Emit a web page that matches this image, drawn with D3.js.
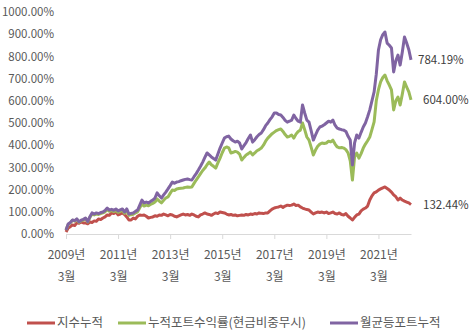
<!DOCTYPE html>
<html>
<head>
<meta charset="utf-8">
<script src="https://cdn.jsdelivr.net/npm/d3@7"></script>
<style>
  html, body { margin: 0; padding: 0; background: #fff; }
  svg { display: block; }
  text { font-family: "Noto Sans CJK KR", "Noto Sans", sans-serif; fill: #595959; }
</style>
</head>
<body>
<svg id="chart" width="470" height="335"></svg>
<script>
// Monthly cumulative returns (%), March 2009 to June 2022
const seriesNames = ["지수누적", "누적포트수익률(현금비중무시)", "월균등포트누적"];
const seriesColors = ["#C0504D", "#9BBB59", "#8064A2"];

const indexCum = [
  9, 27, 33, 41, 38, 50, 48, 54, 50, 50, 46, 54, 52, 59, 57, 68, 65, 72, 77, 86,
  84, 95, 92, 99, 86, 90, 95, 88, 77, 63, 63, 72, 68, 80, 86, 84, 86, 80, 72, 75,
  77, 82, 80, 86, 84, 90, 86, 82, 88, 86, 80, 77, 82, 86, 90, 86, 88, 84, 90, 86,
  80, 77, 86, 90, 95, 90, 88, 84, 90, 95, 92, 99, 97, 95, 90, 86, 88, 84, 86, 82,
  84, 86, 84, 88, 86, 90, 88, 92, 90, 95, 93, 92, 95, 95, 104, 112, 117, 120, 122, 126,
  120, 126, 130, 128, 130, 135, 128, 130, 122, 117, 113, 110, 108, 99, 90, 95, 99, 97, 99, 95,
  99, 92, 95, 99, 92, 90, 95, 88, 86, 92, 80, 72, 63, 75, 86, 90, 104, 112, 117, 126,
  153, 172, 185, 190, 198, 203, 208, 212, 205, 198, 189, 176, 168, 153, 162, 153, 148, 144, 140, 132.44
];

const portCum = [
  18, 42, 50, 62, 58, 66, 53, 60, 63, 70, 54, 74, 90, 86, 90, 88, 92, 95, 100, 110,
  102, 105, 101, 106, 98, 102, 106, 93, 106, 84, 87, 89, 95, 100, 118, 135, 126, 130, 127, 134,
  138, 144, 158, 148, 140, 152, 162, 167, 183, 198, 196, 203, 205, 206, 207, 210, 212, 211, 212, 228,
  243, 257, 272, 286, 297, 312, 324, 312, 305, 297, 320, 342, 366, 387, 392, 388, 365, 368, 372, 369,
  360, 333, 345, 356, 362, 369, 356, 365, 375, 380, 387, 400, 418, 432, 442, 452, 459, 466, 470, 473,
  462, 448, 437, 440, 446, 432, 450, 462, 468, 500, 470, 437, 423, 390, 356, 378, 395, 405, 410, 408,
  410, 418, 415, 423, 405, 392, 388, 390, 387, 380, 365, 330, 243, 347, 365, 342, 362, 387, 405, 420,
  437, 470, 505, 600, 650, 685, 705, 716, 690, 671, 649, 559, 600, 617, 581, 630, 685, 662, 640, 604.00
];

const equalCum = [
  18, 45, 52, 63, 60, 68, 55, 62, 66, 72, 56, 78, 95, 90, 95, 92, 97, 99, 106, 117,
  108, 111, 107, 113, 104, 109, 113, 99, 113, 90, 93, 95, 102, 108, 130, 153, 140, 144, 140, 147,
  153, 162, 185, 172, 162, 176, 189, 203, 218, 234, 229, 234, 236, 240, 243, 246, 248, 245, 243, 258,
  272, 288, 305, 324, 345, 365, 356, 347, 340, 333, 360, 387, 410, 432, 438, 441, 428, 420, 414, 418,
  410, 383, 398, 412, 430, 446, 414, 425, 438, 448, 455, 470, 488, 500, 515, 528, 545, 545, 538, 536,
  525, 512, 504, 508, 513, 536, 520, 508, 504, 581, 545, 513, 504, 465, 423, 446, 468, 482, 486, 492,
  500, 508, 504, 513, 490, 477, 473, 470, 468, 462, 440, 423, 311, 410, 446, 432, 458, 482, 500, 528,
  559, 600, 640, 720, 829, 875, 898, 910, 860, 850, 838, 730, 780, 806, 761, 820, 887, 860, 830, 784.19
];

// Axis labels
const yTicks = [0, 100, 200, 300, 400, 500, 600, 700, 800, 900, 1000];
const xTickIndex = [0, 24, 48, 72, 96, 120, 144];
const xTickYear = ["2009년", "2011년", "2013년", "2015년", "2017년", "2019년", "2021년"];
const xTickMonth = "3월";

const series = [indexCum, portCum, equalCum];

const svg = d3.select("#chart");
const n = equalCum.length;

const x = d3.scaleLinear().domain([0, n - 1]).range([66, 411]);
const y = d3.scaleLinear().domain([0, 1000]).range([234, 12]);

// Y axis: labels only
const yAxis = svg.append("g")
  .attr("transform", "translate(54,0)")
  .call(d3.axisLeft(y).tickValues(yTicks).tickSize(0).tickPadding(0)
    .tickFormat(d => d3.format(".2f")(d) + "%"));
yAxis.select(".domain").remove();
yAxis.selectAll("text").style("font-size", "11.5px").style("fill", "#595959")
  .style("font-family", "'Noto Sans CJK KR', sans-serif");

// X axis with two-line labels
const xAxis = svg.append("g")
  .attr("transform", "translate(0,234)")
  .call(d3.axisBottom(x).tickValues(xTickIndex).tickSize(5).tickSizeOuter(0).tickFormat(""));
xAxis.select(".domain").attr("stroke", "#d9d9d9");
xAxis.selectAll(".tick line").attr("stroke", "#d9d9d9");
xAxis.selectAll(".tick").each(function (d, i) {
  const t = d3.select(this).append("text")
    .attr("text-anchor", "middle")
    .style("font-size", "12px")
    .style("fill", "#595959");
  t.append("tspan").attr("x", 0).attr("y", 25).text(xTickYear[i]);
  t.append("tspan").attr("x", 0).attr("y", 47).text(xTickMonth);
});

// Lines
const line = d3.line().x((d, i) => x(i)).y(d => y(d));
series.forEach((s, k) => {
  svg.append("path")
    .datum(s)
    .attr("fill", "none")
    .attr("stroke", seriesColors[k])
    .attr("stroke-width", 3)
    .attr("stroke-linejoin", "round")
    .attr("d", line);
});

// End-value labels
const endLabelX = [423, 423, 418];
series.forEach((s, k) => {
  svg.append("text")
    .attr("x", endLabelX[k])
    .attr("y", y(s[n - 1]))
    .attr("dy", "0.35em")
    .style("font-size", "11.5px")
    .style("fill", "#404040")
    .text(d3.format(".2f")(s[n - 1]) + "%");
});

// Legend
const legendX = [27, 118, 330];
const legend = svg.append("g").attr("transform", "translate(0,323)");
seriesNames.forEach((name, k) => {
  legend.append("line")
    .attr("x1", legendX[k]).attr("x2", legendX[k] + 28)
    .attr("y1", 0).attr("y2", 0)
    .attr("stroke", seriesColors[k]).attr("stroke-width", 3);
  legend.append("text")
    .attr("x", legendX[k] + 30).attr("y", 0).attr("dy", "0.35em")
    .style("font-size", "12.5px")
    .style("fill", "#595959")
    .text(name);
});
</script>
</body>
</html>
